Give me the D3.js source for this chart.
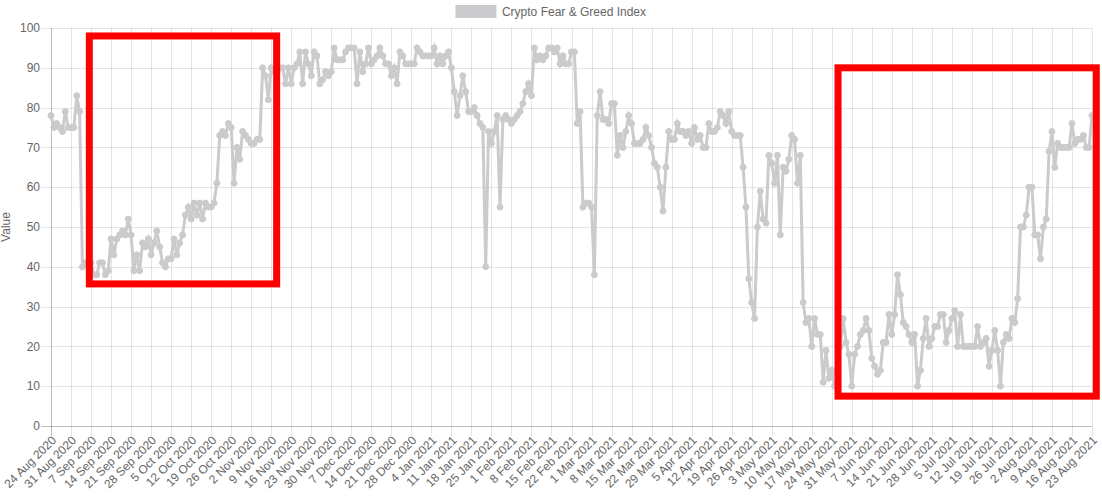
<!DOCTYPE html>
<html><head><meta charset="utf-8">
<script src="https://cdn.jsdelivr.net/npm/d3@7"></script>
<style>body{margin:0;background:#fff;} svg{display:block;}</style>
</head><body><svg id="c" width="1102" height="498"></svg>
<script>
// ---------- data ----------
const seriesName = "Crypto Fear & Greed Index";
const startDate = "2020-08-24";
const values = [
78,75,76,75,74,79,75,75,75,83,
79,40,41,41,41,38,38,41,41,38,
39,47,43,47,48,49,48,52,48,39,
43,39,46,45,47,43,46,49,45,41,
40,42,42,47,43,46,48,53,55,52,
56,53,56,52,56,55,55,56,61,73,
74,73,76,75,61,70,67,74,73,72,
71,71,72,72,90,88,82,90,89,86,
90,90,86,90,86,90,91,94,86,94,
91,88,94,93,86,87,89,88,89,95,
92,92,92,94,95,95,95,86,94,89,
91,95,91,92,93,95,93,91,91,88,
90,86,94,93,91,91,91,91,95,94,
93,93,93,93,95,91,93,91,93,94,
90,84,78,83,88,84,79,79,80,78,
76,75,40,74,71,74,78,55,77,78,
77,76,77,78,79,81,84,86,83,95,
92,93,92,93,95,95,94,95,91,93,
91,91,94,94,76,79,55,56,56,55,
38,78,84,77,77,76,81,81,68,73,
70,74,78,76,71,71,71,72,75,73,
70,66,65,60,54,65,74,72,72,76,
74,74,73,74,71,75,72,73,70,70,
76,74,74,75,79,78,76,79,74,73,
73,73,65,55,37,31,27,50,59,52,
51,68,66,61,68,48,65,64,67,73,
72,61,68,31,26,27,20,27,23,23,
11,19,12,14,10,13,20,27,21,18,
10,18,20,23,24,27,24,17,15,13,
14,21,21,28,23,28,38,33,26,25,
23,21,23,10,14,22,27,20,22,25,
25,28,28,21,24,27,29,20,28,20,
20,20,20,20,25,20,21,22,15,19,
24,19,10,21,23,22,27,26,32,50,
50,53,60,60,48,48,42,50,52,69,
74,65,71,70,70,70,70,76,71,72,
72,73,70,70,78
];
const tickLabels = [
"24 Aug 2020","31 Aug 2020","7 Sep 2020","14 Sep 2020","21 Sep 2020","28 Sep 2020",
"5 Oct 2020","12 Oct 2020","19 Oct 2020","26 Oct 2020","2 Nov 2020","9 Nov 2020",
"16 Nov 2020","23 Nov 2020","30 Nov 2020","7 Dec 2020","14 Dec 2020","21 Dec 2020",
"28 Dec 2020","4 Jan 2021","11 Jan 2021","18 Jan 2021","25 Jan 2021","1 Feb 2021",
"8 Feb 2021","15 Feb 2021","22 Feb 2021","1 Mar 2021","8 Mar 2021","15 Mar 2021",
"22 Mar 2021","29 Mar 2021","5 Apr 2021","12 Apr 2021","19 Apr 2021","26 Apr 2021",
"3 May 2021","10 May 2021","17 May 2021","24 May 2021","31 May 2021","7 Jun 2021",
"14 Jun 2021","21 Jun 2021","28 Jun 2021","5 Jul 2021","12 Jul 2021","19 Jul 2021",
"26 Jul 2021","2 Aug 2021","9 Aug 2021","16 Aug 2021","23 Aug 2021"
];
const tickEvery = 7;
const yTicks = [0,10,20,30,40,50,60,70,80,90,100];
const yTitle = "Value";
// highlight rectangles (day index from / to, value top / bottom)
const boxFrom   = [13.4, 275.2];
const boxTo     = [78.9, 365.5];
const boxTop    = [98, 90];
const boxBottom = [35.7, 7.5];

// ---------- chart ----------
const W = 1102, H = 498;
const M = {left: 51, right: 1092, top: 28, bottom: 426};
const font = '"Helvetica Neue", Helvetica, Arial, "Liberation Sans", sans-serif';
const lineColor = "#cbcbcd";
const svg = d3.select("#c");

const parse = d3.timeParse("%Y-%m-%d");
const start = parse(startDate);
const dates = values.map((v, i) => d3.timeDay.offset(start, i));
const data = values.map((v, i) => ({i, date: dates[i], v}));

const x = d3.scaleLinear().domain([0, values.length - 1]).range([M.left, M.right]);
const y = d3.scaleLinear().domain([0, 100]).range([M.bottom, M.top]);

const tickIdx = d3.range(0, values.length, tickEvery);

// grid
const grid = svg.append("g");
grid.selectAll("line.h").data(yTicks).join("line")
  .attr("x1", M.left - 10).attr("x2", M.right)
  .attr("y1", d => Math.round(y(d)) + 0.5).attr("y2", d => Math.round(y(d)) + 0.5)
  .attr("stroke", d => d === 0 ? "rgba(0,0,0,0.25)" : "rgba(0,0,0,0.1)")
  .attr("stroke-width", 1);
grid.selectAll("line.v").data(tickIdx).join("line")
  .attr("x1", d => Math.round(x(d)) + 0.5).attr("x2", d => Math.round(x(d)) + 0.5)
  .attr("y1", M.top).attr("y2", M.bottom + 10)
  .attr("stroke", d => d === 0 ? "rgba(0,0,0,0.25)" : "rgba(0,0,0,0.1)")
  .attr("stroke-width", 1);

// y tick labels
svg.append("g").selectAll("text").data(yTicks).join("text")
  .attr("x", M.left - 11).attr("y", d => y(d))
  .attr("dy", "0.35em").attr("text-anchor", "end")
  .attr("font-family", font).attr("font-size", 12).attr("fill", "#666")
  .text(d => d);

// y title
svg.append("text")
  .attr("transform", `translate(6,${(M.top + M.bottom) / 2}) rotate(-90)`)
  .attr("text-anchor", "middle").attr("dy", "0.35em")
  .attr("font-family", font).attr("font-size", 12).attr("fill", "#666")
  .text(yTitle);

// x tick labels
svg.append("g").selectAll("text").data(tickIdx).join("text")
  .attr("transform", d => `translate(${x(d) + 3},${M.bottom + 12}) rotate(-45)`)
  .attr("text-anchor", "end").attr("dy", "0.35em")
  .attr("font-family", font).attr("font-size", 12).attr("fill", "#666")
  .text((d, k) => tickLabels[k]);

// line
const line = d3.line().x(d => x(d.i)).y(d => y(d.v));
svg.append("path").datum(data)
  .attr("d", line).attr("fill", "none")
  .attr("stroke", lineColor).attr("stroke-width", 3)
  .attr("stroke-linejoin", "miter");
svg.append("g").selectAll("circle").data(data).join("circle")
  .attr("cx", d => x(d.i)).attr("cy", d => y(d.v)).attr("r", 3)
  .attr("fill", lineColor).attr("stroke", lineColor).attr("stroke-width", 1);

// highlight boxes
svg.append("g").selectAll("rect").data(boxFrom.map((f, k) => k)).join("rect")
  .attr("x", k => x(boxFrom[k])).attr("y", k => y(boxTop[k]))
  .attr("width", k => x(boxTo[k]) - x(boxFrom[k]))
  .attr("height", k => y(boxBottom[k]) - y(boxTop[k]))
  .attr("fill", "none").attr("stroke", "#ff0000").attr("stroke-width", 7);

// legend
const lg = svg.append("g");
const lt = lg.append("text").attr("font-family", font).attr("font-size", 12)
  .attr("fill", "#666").attr("dy", "0.35em").text(seriesName);
const tw = lt.node().getComputedTextLength();
const lw = 40 + 6 + tw;
const lx = (W - lw) / 2;
lg.append("rect").attr("x", lx).attr("y", 5.5).attr("width", 40).attr("height", 12)
  .attr("fill", lineColor).attr("stroke", lineColor).attr("stroke-width", 1);
lt.attr("x", lx + 46).attr("y", 12);
</script></body></html>
